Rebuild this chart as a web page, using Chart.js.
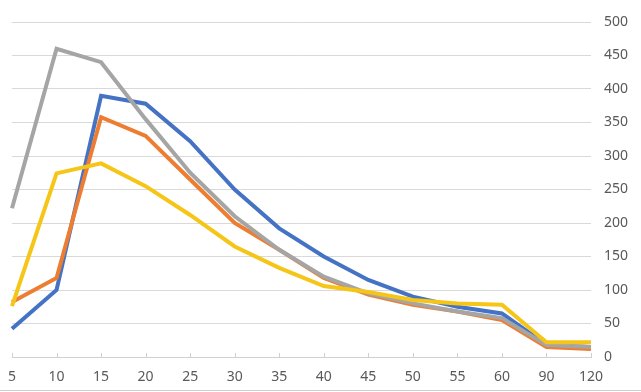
<!DOCTYPE html>
<html>
<head>
<meta charset="utf-8">
<script src="https://cdn.jsdelivr.net/npm/chart.js@4/dist/chart.umd.min.js"></script>
<style>
  html, body { margin: 0; padding: 0; background: #fff; }
  #wrap { width: 641px; height: 392px; position: relative; }
  #wrap:after { content: ""; position: absolute; left: 0; right: 0; top: 390px; height: 1px; background: #cfcfcf; }
</style>
</head>
<body>
<div id="wrap"><canvas id="myChart" width="641" height="392"></canvas></div>
<script>
const labels = ['5', '10', '15', '20', '25', '30', '35', '40', '45', '50', '55', '60', '90', '120'];
const blueData   = [42, 100, 390, 378, 322, 250, 192, 150, 115, 90, 75, 65, 18, 15];
const orangeData = [82, 118, 358, 330, 265, 200, 160, 118, 93, 78, 68, 55, 15, 12];
const grayData   = [222, 460, 440, 355, 275, 210, 160, 120, 95, 80, 68, 58, 18, 15];
const yellowData = [76, 274, 289, 255, 212, 165, 133, 106, 97, 85, 80, 78, 22, 22];
const yTicks = [0, 50, 100, 150, 200, 250, 300, 350, 400, 450, 500];

// little tick marks pointing up from the x axis line
const upTicks = {
    id: 'upTicks',
    afterDraw(chart) {
        const x = chart.scales.x;
        const c = chart.ctx;
        c.save();
        c.strokeStyle = '#d0d0d0';
        c.lineWidth = 1;
        c.beginPath();
        x.ticks.forEach((t, i) => {
            const px = Math.round(x.getPixelForTick(i)) + 0.5;
            c.moveTo(px, x.top);
            c.lineTo(px, x.top - 4);
        });
        c.stroke();
        c.restore();
    }
};

function line(data, color, order) {
    return {
        data: data,
        borderColor: color,
        borderWidth: 4,
        pointRadius: 0,
        tension: 0,
        fill: false,
        order: order
    };
}

const ctx = document.getElementById('myChart').getContext('2d');
const myChart = new Chart(ctx, {
    type: 'line',
    data: {
        labels: labels,
        datasets: [
            line(blueData, '#4472C4', 4),
            line(orangeData, '#ED7D31', 3),
            line(grayData, '#A5A5A5', 2),
            line(yellowData, '#F5C518', 1)
        ]
    },
    options: {
        responsive: false,
        animation: false,
        layout: { padding: { left: 12, top: 22, right: 0, bottom: 0 } },
        plugins: { legend: { display: false }, tooltip: { enabled: false } },
        scales: {
            x: {
                offset: false,
                grid: { display: false, drawTicks: false },
                border: { display: true, color: '#d0d0d0', width: 1 },
                ticks: { color: '#595959', font: { family: 'Noto Sans', size: 14 }, padding: 12, maxRotation: 0, autoSkip: false },
                afterFit(s) { s.height = 35; s.paddingLeft = 0; s.paddingRight = 0; }
            },
            y: {
                position: 'right',
                min: 0,
                max: 500,
                afterBuildTicks(s) { s.ticks = yTicks.map(v => ({ value: v })); },
                grid: { color: '#d9d9d9', lineWidth: 1, drawTicks: false },
                border: { display: false },
                ticks: { color: '#595959', font: { family: 'Noto Sans', size: 14 }, padding: 13 },
                afterFit(s) { s.width = 50; s.paddingTop = 0; s.paddingBottom = 0; }
            }
        }
    },
    plugins: [upTicks]
});
</script>
</body>
</html>
